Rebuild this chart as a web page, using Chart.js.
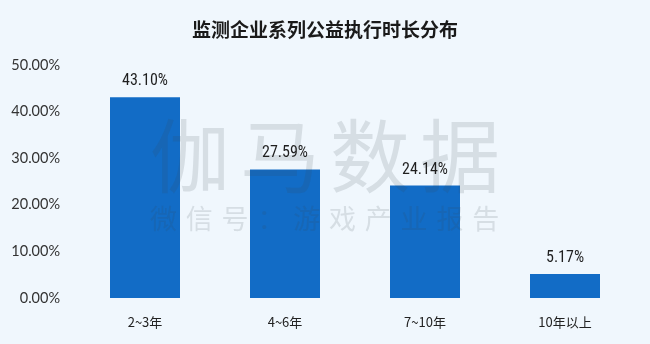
<!DOCTYPE html>
<html><head><meta charset="utf-8">
<script src="https://cdn.jsdelivr.net/npm/chart.js@4/dist/chart.umd.min.js"></script>
<style>html,body{margin:0;padding:0;background:#f0f7fd;}#wrap{width:650px;height:344px;}</style>
</head><body><div id="wrap"><canvas id="c" width="650" height="344"></canvas></div>
<script>
const categories = ["2~3年", "4~6年", "7~10年", "10年以上"];
const values = [43.10, 27.59, 24.14, 5.17];
const yTicks = [0, 10, 20, 30, 40, 50];
const titleText = "监测企业系列公益执行时长分布";
const watermark1 = "伽马数据";
const watermark2 = "微信号：游戏产业报告";

const bgPlugin = {
  id: 'bg',
  beforeDraw(chart) {
    const ctx = chart.ctx;
    ctx.save();
    ctx.fillStyle = '#f0f7fd';
    ctx.fillRect(0, 0, chart.width, chart.height);
    ctx.fillStyle = '#1a1a1a';
    ctx.font = 'bold 19px "Noto Sans CJK SC"';
    ctx.textAlign = 'center';
    ctx.textBaseline = 'middle';
    ctx.fillText(titleText, 325, 30);
    ctx.restore();
  },
  afterDatasetsDraw(chart) {
    const ctx = chart.ctx;
    ctx.save();
    ctx.fillStyle = 'rgba(60,70,80,0.14)';
    ctx.textBaseline = 'middle';
    ctx.textAlign = 'left';
    ctx.font = '80px "Noto Sans CJK SC"';
    let x = 150;
    Array.from(watermark1).forEach(ch => { ctx.fillText(ch, x, 156); x += 90; });
    ctx.font = '27px "Noto Sans CJK SC"';
    x = 150;
    Array.from(watermark2).forEach(ch => { ctx.fillText(ch, x, 219); x += 35.8; });
    ctx.restore();
  }
};

const labelPlugin = {
  id: 'labels',
  afterDatasetsDraw(chart) {
    const ctx = chart.ctx;
    const meta = chart.getDatasetMeta(0);
    ctx.save();
    ctx.fillStyle = '#1f1f1f';
    ctx.font = '16px "Roboto Condensed", Roboto';
    ctx.textAlign = 'center';
    ctx.textBaseline = 'middle';
    meta.data.forEach((el, i) => {
      ctx.fillText(values[i].toFixed(2) + '%', el.x, el.y - 16);
    });
    ctx.restore();
  }
};

new Chart(document.getElementById('c'), {
  type: 'bar',
  data: {
    labels: categories,
    datasets: [{
      data: values,
      backgroundColor: '#126cc6',
      borderWidth: 0,
      categoryPercentage: 1.0,
      barPercentage: 0.5
    }]
  },
  options: {
    responsive: false,
    animation: false,
    layout: { padding: { left: 0, right: 15, top: 65, bottom: 0 } },
    plugins: {
      legend: { display: false },
      tooltip: { enabled: false },
      title: { display: false }
    },
    scales: {
      x: {
        grid: { display: false, drawTicks: false },
        border: { display: false },
        afterFit(scale) { scale.height = 46; },
        ticks: {
          color: '#222',
          font: { family: '"Noto Sans CJK SC", "Noto Sans"', size: 13 },
          padding: 16
        }
      },
      y: {
        min: 0, max: 50,
        afterBuildTicks(scale) { scale.ticks = yTicks.map(v => ({ value: v })); },
        afterFit(scale) { scale.width = 75; },
        grid: { display: false, drawTicks: false },
        border: { display: false },
        ticks: {
          color: '#333',
          font: { family: 'Lato, "Noto Sans"', size: 14.5 },
          padding: 15,
          callback: v => v.toFixed(2) + '%'
        }
      }
    }
  },
  plugins: [bgPlugin, labelPlugin]
});
</script></body></html>
